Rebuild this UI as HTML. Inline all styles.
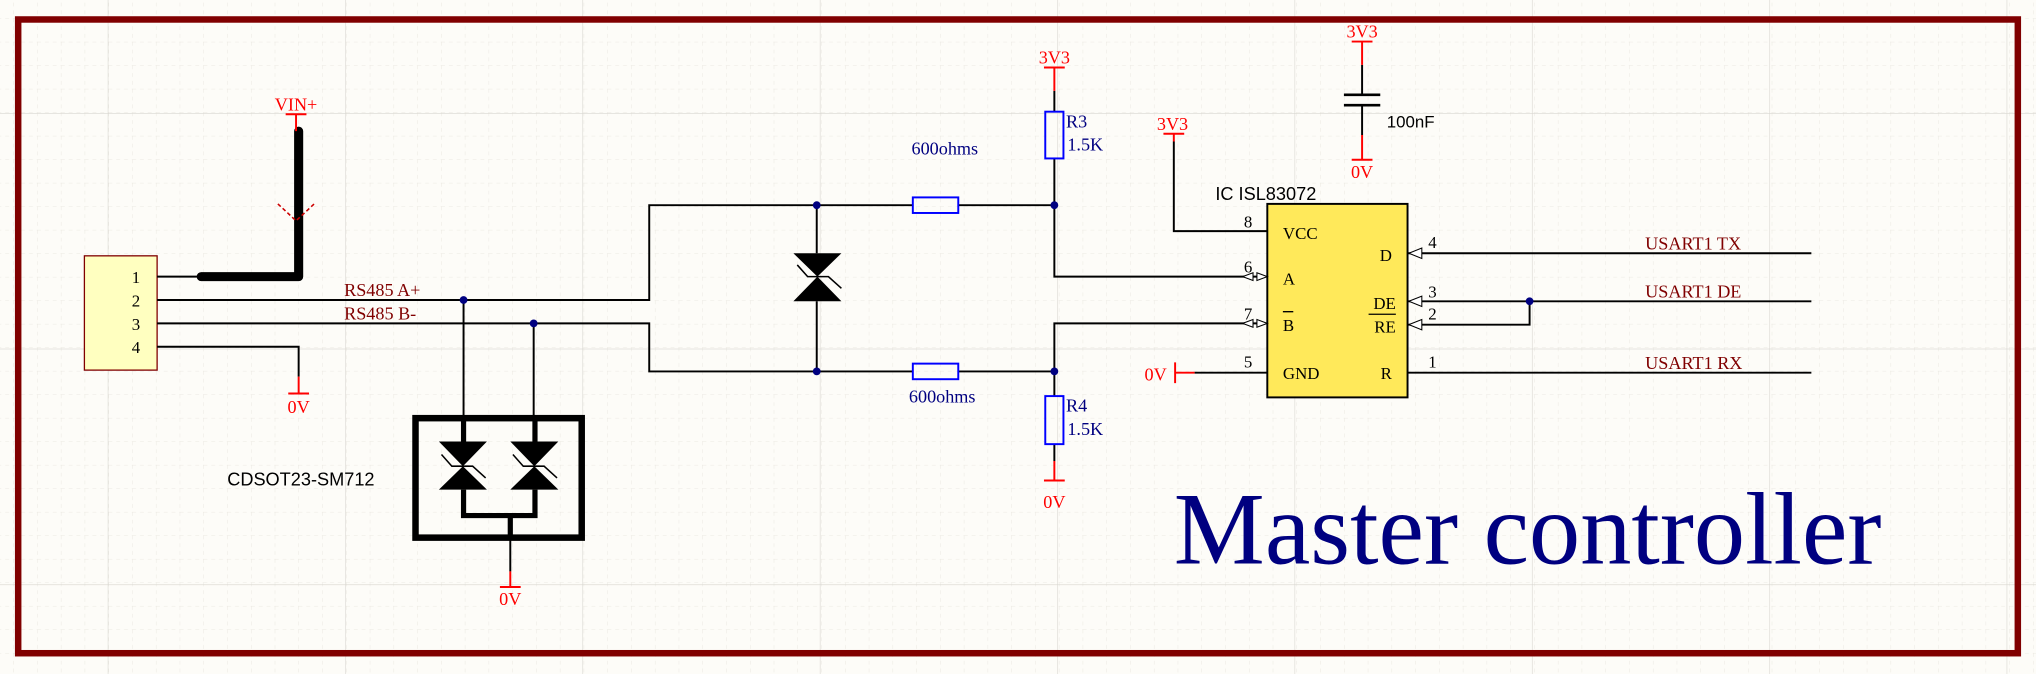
<!DOCTYPE html>
<html><head><meta charset="utf-8"><style>
html,body{margin:0;padding:0;background:#fdfcf8;}
svg{display:block}
</style></head><body>
<svg width="2036" height="674" viewBox="0 0 1568 519" preserveAspectRatio="none" xmlns="http://www.w3.org/2000/svg">
<defs>
<pattern id="minor" x="-8" y="-4" width="18.3" height="18.1" patternUnits="userSpaceOnUse">
<path d="M0 0H18.3M0 0V18.1" stroke="#e6e3dc" stroke-width="0.6" stroke-dasharray="3 3" fill="none"/>
</pattern>
<pattern id="major" x="83" y="87" width="182.8" height="181.5" patternUnits="userSpaceOnUse">
<path d="M0 0H182.8M0 0V181.5" stroke="#d8d6d0" stroke-width="0.9" fill="none"/>
</pattern>
</defs>
<rect width="1568" height="519" fill="#fdfcf8"/>
<rect width="1568" height="519" fill="url(#minor)"/>
<rect width="1568" height="519" fill="url(#major)"/>
<rect x="14" y="15" width="1540" height="488" fill="none" stroke="#800000" stroke-width="5"/>

<g font-family="'Liberation Serif',serif">
<!-- connector -->
<rect x="65" y="197" width="56" height="88" fill="#ffffc0" stroke="#800000" stroke-width="1"/>
<g font-size="13" fill="#000" text-anchor="end">
<text x="108" y="218">1</text><text x="108" y="236">2</text><text x="108" y="254">3</text><text x="108" y="272">4</text>
</g>
<g stroke="#000" stroke-width="1.5" fill="none">
<path d="M121 213H155"/>
<path d="M121 231H500V158H703M738 158H812V213H968"/>
<path d="M121 249H500V286H703M738 286H812V249H968"/>
<path d="M121 267H230V290"/>
<path d="M629 158V195M629 232V286"/>
<path d="M357 231V321M411 249V321"/>
<path d="M393 414V440"/>
<path d="M812 70V86M812 122V158M812 286V305M812 342V355"/>
<path d="M904 109V178H976M920 287H976"/>
<path d="M1049 50V73M1049 81V104"/>
<path d="M1084 195H1395M1084 232H1395M1084 250H1178V232M1084 287H1395"/>
</g>
<path d="M155 213H230V101" stroke="#000" stroke-width="7" fill="none" stroke-linecap="round" stroke-linejoin="round"/>
<path d="M214 157L228 170L242 157" stroke="#c00" stroke-width="1.2" stroke-dasharray="3 2" fill="none"/>
<!-- power ports -->
<g stroke="#f00" stroke-width="1.5" fill="none">
<path d="M228 88V101M220 88H236"/>
<path d="M230 290V303M222 303H238"/>
<path d="M393 440V452M385 452H401"/>
<path d="M812 52V70M804 52H820"/>
<path d="M812 355V370M804 370H820"/>
<path d="M904 103V109M896 103H912"/>
<path d="M1049 32V50M1041 32H1057"/>
<path d="M1049 104V123M1041 123H1057"/>
<path d="M905 279V295M905 287H920"/>
</g>
<g fill="#f00" font-size="14" text-anchor="middle">
<text x="228" y="85">VIN+</text>
<text x="230" y="318">0V</text>
<text x="393" y="466">0V</text>
<text x="812" y="49">3V3</text>
<text x="812" y="391">0V</text>
<text x="903" y="100">3V3</text>
<text x="1049" y="29">3V3</text>
<text x="1049" y="137">0V</text>
<text x="890" y="293">0V</text>
</g>
<!-- capacitor -->
<path d="M1035 73H1063M1035 81H1063" stroke="#000" stroke-width="2"/>
<text x="1068" y="98" font-family="'Liberation Sans',sans-serif" font-size="13">100nF</text>
<!-- labels -->
<g fill="#800000" font-size="14">
<text x="265" y="228">RS485 A+</text>
<text x="265" y="246">RS485 B-</text>
<text x="1267" y="192">USART1 TX</text>
<text x="1267" y="229">USART1 DE</text>
<text x="1267" y="284">USART1 RX</text>
</g>
<!-- fuses & resistors -->
<g fill="none" stroke="#00f" stroke-width="1.5">
<rect x="703" y="152" width="35" height="12"/>
<rect x="703" y="280" width="35" height="12"/>
<rect x="805" y="86" width="14" height="36"/>
<rect x="805" y="305" width="14" height="37"/>
</g>
<g fill="#000080" font-size="14">
<text x="702" y="119">600ohms</text>
<text x="700" y="310">600ohms</text>
<text x="821" y="98">R3</text><text x="822" y="116">1.5K</text>
<text x="821" y="317">R4</text><text x="822" y="335">1.5K</text>
</g>
<!-- TVS -->
<g fill="#000">
<path d="M611 195H648L629.5 213Z"/><path d="M611 232H648L629.5 213Z"/>
<path d="M338 340H375L356.5 359Z"/><path d="M338 377H375L356.5 359Z"/>
<path d="M393 340H430L411.5 359Z"/><path d="M393 377H430L411.5 359Z"/>
</g>
<g stroke="#000" stroke-width="1.2" fill="none">
<path d="M614 204L622 213H638L648 222"/>
<path d="M340 350L348 359H364L374 368"/>
<path d="M395 350L403 359H419L429 368"/>
</g>
<!-- SM712 box -->
<rect x="320" y="322" width="128" height="92" fill="none" stroke="#000" stroke-width="5"/>
<path d="M357 321V340M412 321V340M357 377V397H412V377M393 397V414" stroke="#000" stroke-width="4" fill="none"/>
<text x="175" y="374" font-family="'Liberation Sans',sans-serif" font-size="14">CDSOT23-SM712</text>
<!-- junctions -->
<g fill="#000080">
<circle cx="357" cy="231" r="3"/><circle cx="411" cy="249" r="3"/>
<circle cx="629" cy="158" r="3"/><circle cx="629" cy="286" r="3"/>
<circle cx="812" cy="158" r="3"/><circle cx="812" cy="286" r="3"/>
<circle cx="1178" cy="232" r="3"/>
</g>
<!-- IC -->
<rect x="976" y="157" width="108" height="149" fill="#ffe95a" stroke="#000" stroke-width="1.5"/>
<text x="936" y="154" font-family="'Liberation Sans',sans-serif" font-size="14">IC ISL83072</text>
<g font-size="13" fill="#000">
<text x="988" y="184">VCC</text>
<text x="988" y="219">A</text>
<text x="988" y="255">B</text>
<text x="988" y="292">GND</text>
<text x="1072" y="201" text-anchor="end">D</text>
<text x="1075" y="238" text-anchor="end">DE</text>
<text x="1075" y="256" text-anchor="end">RE</text>
<text x="1072" y="292" text-anchor="end">R</text>
<text x="958" y="175">8</text><text x="958" y="210">6</text><text x="958" y="246">7</text><text x="958" y="283">5</text>
<text x="1100" y="191">4</text><text x="1100" y="229">3</text><text x="1100" y="246">2</text><text x="1100" y="283">1</text>
</g>
<path d="M988 240H996M1054 242H1075" stroke="#000" stroke-width="1"/>
<g fill="#fff" stroke="#000" stroke-width="0.8">
<path d="M957 213L965 210V216Z"/><path d="M976 213L968 210V216Z"/>
<path d="M957 249L965 246V252Z"/><path d="M976 249L968 246V252Z"/>
<path d="M1085 195L1095 191V199Z"/>
<path d="M1085 232L1095 228V236Z"/>
<path d="M1085 250L1095 246V254Z"/>
</g>
<text x="904" y="434" font-size="79" fill="#000080" textLength="545" lengthAdjust="spacingAndGlyphs">Master controller</text>
</g>
</svg>
</body></html>
